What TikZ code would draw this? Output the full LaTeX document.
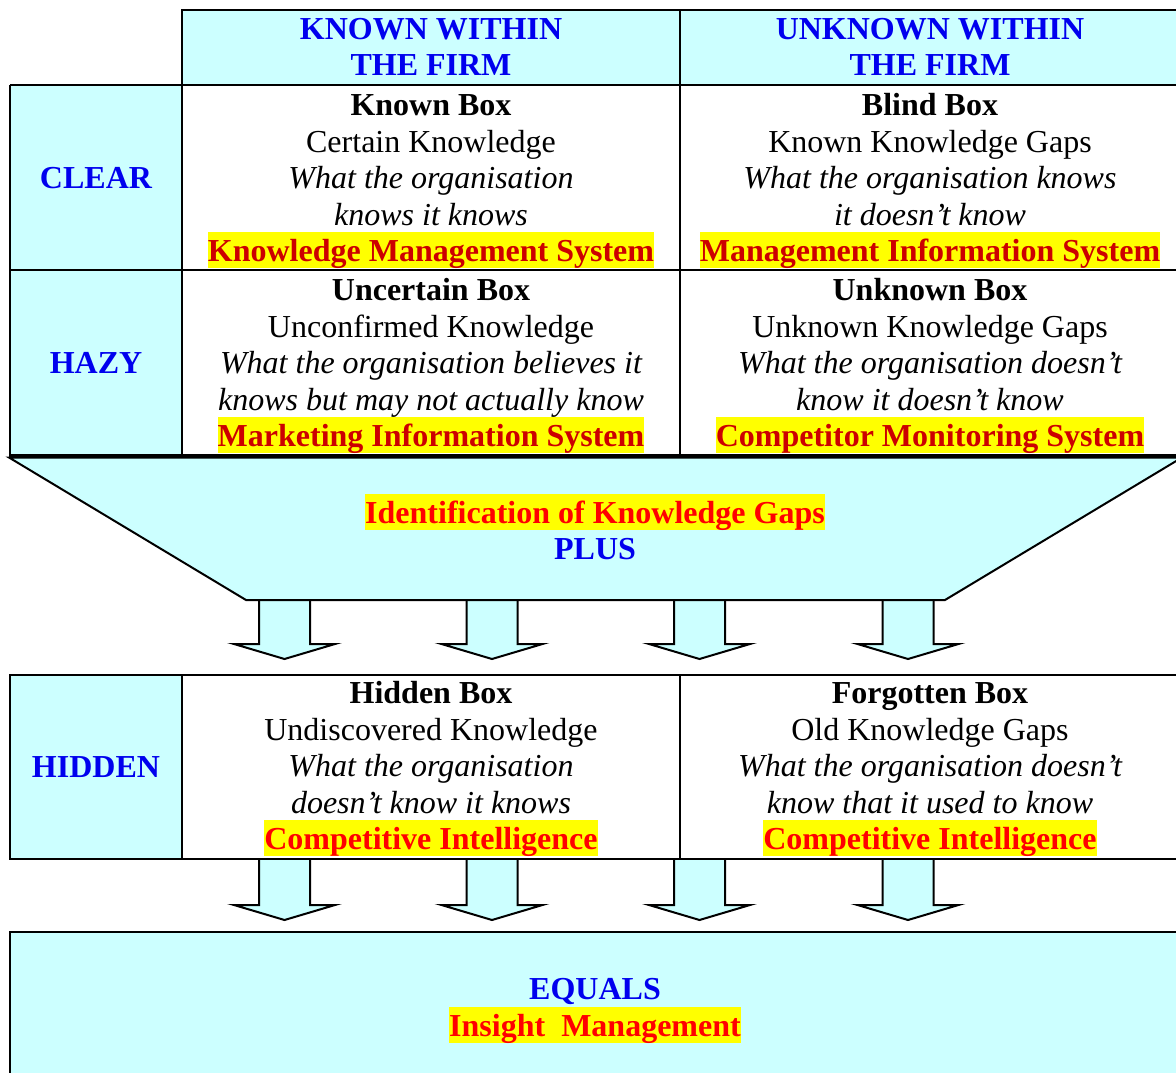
\documentclass[tikz,border=0pt]{standalone}
\usepackage{fontspec}
\setmainfont{Liberation Serif}
\definecolor{cy}{HTML}{CCFFFF}
\definecolor{hdblue}{HTML}{0000EE}
\definecolor{dred}{HTML}{CC0000}
\definecolor{bred}{HTML}{FF0000}
\definecolor{hlyel}{HTML}{FFFF00}
\tikzset{
  ln/.style={anchor=base, inner sep=0pt, font=\fontsize{32}{36}\selectfont},
  ttl/.style={ln, font=\fontsize{32}{36}\selectfont\bfseries},
  subln/.style={ln},
  itl/.style={ln, font=\fontsize{32}{36}\selectfont\itshape},
  hltxt/.style={ln, font=\fontsize{32}{36}\selectfont\bfseries, fill=hlyel, text height=29pt, text depth=7pt},
  bluelab/.style={ln, font=\fontsize{32}{36}\selectfont\bfseries, text=hdblue},
  border/.style={draw=black, line width=2pt},
}
\newcommand\cellbox[9]{%
  \node[ttl] (#1t) at (#2,#3) {#4};
  \node[subln] (#1s) at (#2,#3+37) {#5};
  \node[itl] (#1a) at (#2,#3+73) {#6};
  \node[itl] (#1b) at (#2,#3+110) {#7};
  \node[hltxt, text=#9] (#1h) at (#2,#3+146) {#8};
}
\newcommand\blockarrow[3]{%
  \fill[cy] (#1-25.5,#2) -- (#1-25.5,#3) -- (#1-50.5,#3) -- (#1,#3+15) -- (#1+50.5,#3) -- (#1+25.5,#3) -- (#1+25.5,#2) -- cycle;
  \draw[line width=2pt, line join=miter] (#1-25.5,#2) -- (#1-25.5,#3) -- (#1-50.5,#3) -- (#1,#3+15) -- (#1+50.5,#3) -- (#1+25.5,#3) -- (#1+25.5,#2);
}
\begin{document}
\begin{tikzpicture}[x=1pt,y=-1pt]
\useasboundingbox (0,0) rectangle (1176,1073);
\clip (0,0) rectangle (1176,1073);
% arrows (drawn first so the box edges lie on top)
\blockarrow{284.5}{595}{644}
\blockarrow{492}{595}{644}
\blockarrow{699.5}{595}{644}
\blockarrow{908}{595}{644}
\blockarrow{284.5}{855}{905}
\blockarrow{492}{855}{905}
\blockarrow{699.5}{855}{905}
\blockarrow{908}{855}{905}
% top table
\fill[cy] (182,10) rectangle (1190,85);
\fill[cy] (10,85) rectangle (182,455);
\draw[border] (182,85) -- (182,10) -- (1190,10);
\draw[border] (10,85) -- (1190,85);
\draw[border] (10,270) -- (1190,270);
\draw[border] (10,85) -- (10,455);
\draw[border] (182,85) -- (182,455);
\draw[border] (680,10) -- (680,455);
% funnel
\filldraw[fill=cy, border, line join=miter] (9,457.5) -- (246,600) -- (945,600) -- (1182,457.5) -- cycle;
\draw[line width=3pt] (9,455) -- (1190,455);
% hidden row
\fill[white] (182,675) rectangle (1190,859);
\fill[cy] (10,675) rectangle (182,859);
\draw[border] (10,675) rectangle (1190,859);
\draw[border] (182,675) -- (182,859);
\draw[border] (680,675) -- (680,859);
% bottom box
\filldraw[fill=cy, border] (10,932) rectangle (1190,1085);
% header texts
\node[bluelab] (h1a) at (431,40) {KNOWN WITHIN};
\node[bluelab] (h1b) at (431,76) {THE FIRM};
\node[bluelab] (h2a) at (930,40) {UNKNOWN WITHIN};
\node[bluelab] (h2b) at (930,76) {THE FIRM};
% row labels
\node[bluelab] (clear) at (96,188) {CLEAR};
\node[bluelab] (hazy) at (96,373) {HAZY};
\node[bluelab] (hidden) at (96,777) {HIDDEN};
% cells
\cellbox{kn}{431}{115}{Known Box}{Certain Knowledge}{What the organisation}{knows it knows}{Knowledge Management System}{dred}
\cellbox{bl}{930}{115}{Blind Box}{Known Knowledge Gaps}{What the organisation knows}{it doesn’t know}{Management Information System}{dred}
\cellbox{un}{431}{300}{Uncertain Box}{Unconfirmed Knowledge}{What the organisation believes it}{knows but may not actually know}{Marketing Information System}{dred}
\cellbox{uk}{930}{300}{Unknown Box}{Unknown Knowledge Gaps}{What the organisation doesn’t}{know it doesn’t know}{Competitor Monitoring System}{dred}
\cellbox{hd}{431}{703}{Hidden Box}{Undiscovered Knowledge}{What the organisation}{doesn’t know it knows}{Competitive Intelligence}{bred}
\cellbox{fg}{930}{703}{Forgotten Box}{Old Knowledge Gaps}{What the organisation doesn’t}{know that it used to know}{Competitive Intelligence}{bred}
% funnel texts
\node[hltxt, text=bred] (ident) at (595,523) {Identification of Knowledge Gaps};
\node[bluelab] (plus) at (595,559) {PLUS};
% bottom texts
\node[bluelab] (equals) at (595,999) {EQUALS};
\node[hltxt, text=bred] (insight) at (595,1036) {Insight\ \ Management};
\end{tikzpicture}
\end{document}
